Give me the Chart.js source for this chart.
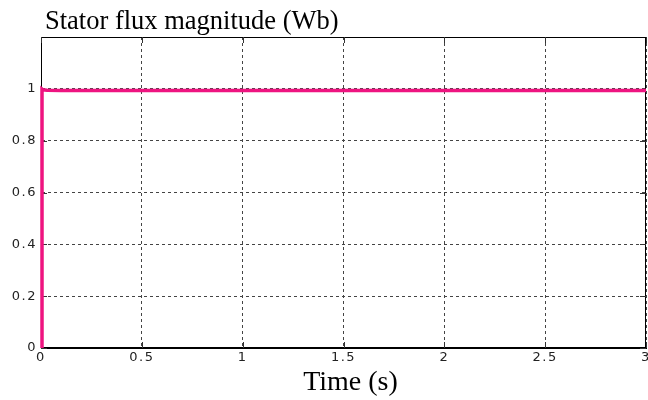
<!DOCTYPE html>
<html>
<head>
<meta charset="utf-8">
<script src="https://cdn.jsdelivr.net/npm/chart.js@4"></script>
<style>
  html, body { margin: 0; padding: 0; background: #fff; }
  #wrap { width: 648px; height: 400px; }
</style>
</head>
<body>
<div id="wrap"><canvas id="fluxChart" width="648" height="400"></canvas></div>
<script>
// Datos
const tiempo = [0.005, 0.005, 0.01, 0.03, 0.1, 1, 2, 3];           // s
const flujo  = [0, 0.999, 0.996, 0.995, 0.994, 0.994, 0.994, 0.994]; // Wb
const ticksX = [0, 0.5, 1, 1.5, 2, 2.5, 3];
const ticksY = [0, 0.2, 0.4, 0.6, 0.8, 1];
const titulo = 'Stator flux magnitude (Wb)';
const tituloX = 'Time (s)';

const puntos = tiempo.map((t, i) => ({ x: t, y: flujo[i] }));
const etiqueta = (v) => String(Math.round(v * 10) / 10);
const serif = '"Liberation Serif", "Times New Roman", serif';

const ctx = document.getElementById('fluxChart');

const fluxChart = new Chart(ctx, {
    type: 'line',
    data: {
        datasets: [{
            label: 'Stator flux',
            data: puntos,
            borderColor: '#ee1480',
            borderWidth: 3.5,
            pointRadius: 0,
            tension: 0,
            clip: 4
        }]
    },
    options: {
        responsive: false,
        animation: false,
        layout: { padding: { left: 0, right: 2, top: 37, bottom: 0 } },
        plugins: {
            legend: { display: false },
            tooltip: { enabled: false },
            title: { display: false }
        },
        scales: {
            x: {
                type: 'linear',
                min: 0,
                max: 3,
                afterBuildTicks: (s) => { s.ticks = ticksX.map(v => ({ value: v })); },
                afterFit: (s) => { s.height = 52; s.paddingLeft = 0; s.paddingRight = 0; },
                ticks: {
                    color: '#222',
                    font: { family: '"DejaVu Sans", sans-serif', size: 13 },
                    padding: 2,
                    maxRotation: 0,
                    callback: etiqueta
                },
                grid: { color: '#444', lineWidth: 1, drawTicks: false },
                border: { display: true, color: '#000', width: 1, dash: [3, 3] }
            },
            y: {
                min: 0,
                max: 1.2,
                afterBuildTicks: (s) => { s.ticks = ticksY.map(v => ({ value: v })); },
                afterFit: (s) => { s.width = 41; s.paddingTop = 0; s.paddingBottom = 0; },
                ticks: {
                    color: '#222',
                    font: { family: '"DejaVu Sans", sans-serif', size: 13 },
                    padding: 4,
                    callback: etiqueta
                },
                grid: { color: '#444', lineWidth: 1, drawTicks: false },
                border: { display: true, color: '#000', width: 1, dash: [3, 3] }
            }
        }
    },
    plugins: [{
        id: 'marco',
        beforeDraw(chart) {
            // letras de los ticks algo más espaciadas, como en la figura
            chart.ctx.letterSpacing = '1.5px';
        },
        beforeDatasetsDraw(chart) {
            const a = chart.chartArea;
            const c = chart.ctx;
            const sx = chart.scales.x;
            const sy = chart.scales.y;
            c.save();
            c.letterSpacing = '0px';
            c.strokeStyle = '#000';
            c.lineWidth = 1;
            c.setLineDash([]);
            c.strokeRect(a.left + 0.5, a.top + 0.5, a.right - a.left - 1, a.bottom - a.top - 1);
            // marcas interiores
            c.strokeStyle = '#333';
            c.beginPath();
            ticksX.forEach(v => {
                const px = Math.round(sx.getPixelForValue(v)) + 0.5;
                c.moveTo(px, a.bottom); c.lineTo(px, a.bottom - 6);
                c.moveTo(px, a.top); c.lineTo(px, a.top + 6);
            });
            ticksY.forEach(v => {
                const py = Math.round(sy.getPixelForValue(v)) + 0.5;
                c.moveTo(a.left, py); c.lineTo(a.left + 6, py);
                c.moveTo(a.right, py); c.lineTo(a.right - 6, py);
            });
            c.stroke();
            c.restore();
        },
        afterDraw(chart) {
            const c = chart.ctx;
            const a = chart.chartArea;
            c.save();
            c.letterSpacing = '0px';
            c.fillStyle = '#000';
            c.textBaseline = 'alphabetic';
            c.textAlign = 'left';
            c.font = '26.5px ' + serif;
            c.fillText(titulo, 45, 29);
            c.textAlign = 'center';
            c.font = '28px ' + serif;
            c.fillText(tituloX, (a.left + a.right) / 2 + 7, 390);
            c.restore();
        }
    }]
});
</script>
</body>
</html>
